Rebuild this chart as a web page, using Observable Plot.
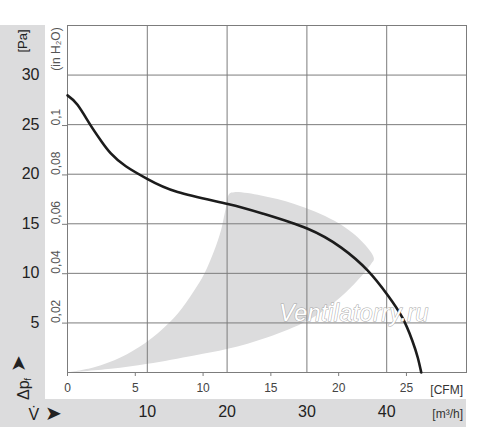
<!DOCTYPE html>
<html><head><meta charset="utf-8">
<script src="https://cdn.jsdelivr.net/npm/d3@7"></script>
<script src="https://cdn.jsdelivr.net/npm/@observablehq/plot@0.6"></script>
<style>body{margin:0;background:#fff} #chart svg{display:block}</style>
</head><body><div id="chart"></div>
<script>
// Fan characteristic: flow (m³/h) vs static pressure (Pa)
const curveFlow = [0, 1.25, 2.84, 4.18, 5.43, 7.31, 10.04, 13.8, 20.08, 24.6, 30.1, 34.3, 37.6, 40.15, 41.95, 43.2, 43.89, 44.33];
const curvePa   = [27.95, 27.0, 25.0, 23.4, 22.1, 20.8, 19.5, 18.2, 17.0, 16.0, 14.5, 12.6, 10.3, 7.77, 5.55, 3.23, 1.51, 0];
// Shaded operating zone outline
const zoneFlow = [0, 5.43, 10.04, 15.88, 20.08, 25.09, 30.11, 33.45, 35.96, 38.06, 38.4, 36.8, 33.45, 28.43, 24.25, 20.9, 20.28, 19.86, 19.23, 18.39, 17.14, 15.88, 13.8, 11.71, 9.61, 6.69, 3.34, 0];
const zonePa   = [0, 0.37, 0.88, 1.72, 2.39, 3.56, 5.25, 7.09, 8.95, 10.97, 11.5, 13.3, 15.3, 17.0, 17.86, 18.19, 18.03, 16.68, 14.33, 12.31, 9.96, 8.27, 5.92, 4.24, 2.9, 1.54, 0.53, 0];
// Ticks
const paTicks = [5, 10, 15, 20, 25, 30];
const inH2OTicks = [0.02, 0.04, 0.06, 0.08, 0.1];
const inH2OLabels = ["0,02", "0,04", "0,06", "0,08", "0,1"];
const cfmTicks = [0, 5, 10, 15, 20, 25];
const m3hTicks = [10, 20, 30, 40];
const PA_PER_INH2O = 249.089;
const M3H_PER_CFM = 1.699;

const curve = curveFlow.map((x, i) => ({x, y: curvePa[i]}));
const zone = zoneFlow.map((x, i) => ({x, y: zonePa[i]}));
const inH2O = inH2OTicks.map((v, i) => ({pa: v * PA_PER_INH2O, label: inH2OLabels[i]}));
const cfm = cfmTicks.map(v => ({m3h: v * M3H_PER_CFM, label: String(v)}));

const font = "Liberation Sans, Arial, Helvetica, sans-serif";
const gridColor = "#7c7c7c";

const plot = Plot.plot({
  width: 500, height: 430,
  marginLeft: 67, marginRight: 34, marginTop: 25, marginBottom: 58,
  x: {domain: [0, 50]},
  y: {domain: [0, 35]},
  style: {fontFamily: font, background: "transparent"},
  marks: [
    Plot.line(zone, {x: "x", y: "y", fill: "#dcdcdd", stroke: "none", curve: "catmull-rom"}),
    Plot.gridX(m3hTicks, {stroke: gridColor, strokeOpacity: 1}),
    Plot.gridY(paTicks, {stroke: gridColor, strokeOpacity: 1}),
    Plot.frame({stroke: gridColor}),
    Plot.axisY(paTicks, {anchor: "left", tickSize: 0, tickPadding: 28, fontSize: 16, color: "#222", label: null}),
    Plot.axisY(inH2O.map(d => d.pa), {anchor: "left", tickSize: 5, tickFormat: () => "", stroke: gridColor, label: null}),
    Plot.text(inH2O, {y: "pa", text: "label", frameAnchor: "left", dx: -11, rotate: -90, fontSize: 12, fill: "#555"}),
    Plot.axisX(cfm.map(d => d.m3h), {anchor: "bottom", tickSize: 4, tickPadding: 7, fontSize: 12, color: "#444", stroke: gridColor,
      tickFormat: d => String(Math.round(d / M3H_PER_CFM)), label: null}),
    Plot.axisX(m3hTicks, {anchor: "bottom", tickSize: 0, tickPadding: 33, fontSize: 16, color: "#222", label: null}),
    Plot.line(curve, {x: "x", y: "y", stroke: "#1c1c1c", strokeWidth: 2.6, curve: "natural"})
  ]
});

document.getElementById("chart").append(plot);
const svg = d3.select(plot);
// background bands (behind)
const bg = svg.insert("g", ":first-child");
bg.append("rect").attr("x", 0).attr("y", 25).attr("width", 45).attr("height", 375).attr("fill", "#dcdcdd");
bg.append("rect").attr("x", 0).attr("y", 399).attr("width", 466).attr("height", 28).attr("fill", "#dcdcdd");

const ann = svg.append("g").attr("font-family", font);
ann.append("text").attr("transform", "translate(22,41) rotate(-90)").attr("text-anchor", "middle")
  .attr("dy", "0.35em").attr("font-size", 13).attr("fill", "#222").text("[Pa]");
ann.append("text").attr("transform", "translate(56,49) rotate(-90)").attr("text-anchor", "middle")
  .attr("dy", "0.35em").attr("font-size", 12).attr("fill", "#555").text("(in H\u2082O)");
const dp = ann.append("text").attr("transform", "translate(23,400) rotate(-90)").attr("text-anchor", "start")
  .attr("dy", "0.35em").attr("font-size", 16).attr("fill", "#222");
dp.append("tspan").text("\u0394p");
dp.append("tspan").attr("font-size", 9).attr("dy", "0.3em").text("f");
dp.append("tspan").attr("dy", "-0.3em").attr("font-size", 20).text(" \u27A4");
const vt = ann.append("text").attr("x", 45).attr("y", 414).attr("dy", "0.35em").attr("font-size", 16).attr("fill", "#222");
vt.append("tspan").text("V\u0307");
vt.append("tspan").attr("font-size", 20).text(" \u27A4");
ann.append("text").attr("x", 463).attr("y", 390).attr("dy", "0.35em").attr("text-anchor", "end")
  .attr("font-size", 12).attr("fill", "#333").text("[CFM]");
ann.append("text").attr("x", 463).attr("y", 414).attr("dy", "0.35em").attr("text-anchor", "end")
  .attr("font-size", 12).attr("fill", "#333").text("[m\u00B3/h]");
ann.append("text").attr("x", 354).attr("y", 321).attr("text-anchor", "middle")
  .attr("font-size", 23).attr("font-style", "italic").attr("letter-spacing", 0.6).attr("fill", "#fff")
  .attr("stroke", "#a8a8a8").attr("stroke-width", 1).attr("paint-order", "stroke")
  .text("Ventilatorry.ru");
</script>
</body></html>
